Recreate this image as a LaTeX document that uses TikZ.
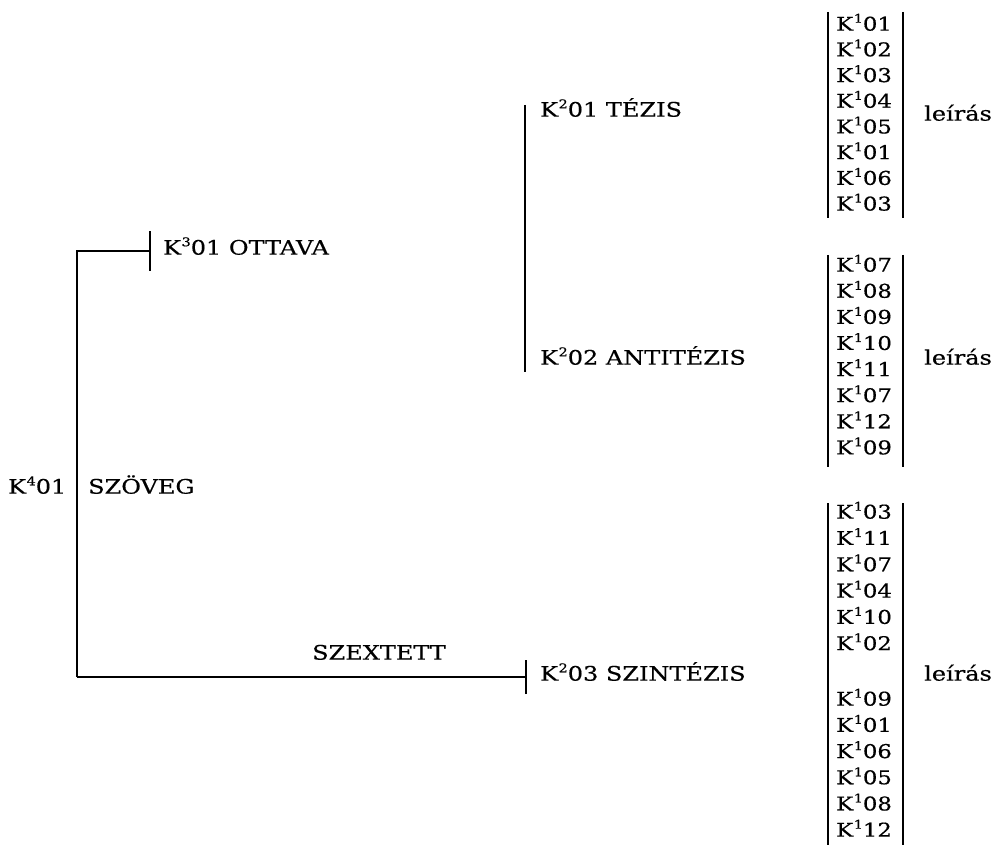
\documentclass[tikz,border=0pt]{standalone}
\usepackage{fontspec}
\setmainfont{DejaVu Serif}[FakeStretch=1.2,FakeBold=0.5]
\newcommand{\Ks}[2]{K\kern0.5pt\raisebox{0.42em}{\fontsize{12}{12}\selectfont #1}#2}
\begin{document}
\begin{tikzpicture}[x=1pt,y=-1pt,
  lbl/.style={inner sep=0pt,anchor=west,text height=0.73em,text depth=0pt,font=\fontsize{20}{24}\selectfont},
  row/.style={inner sep=0pt,anchor=west,text height=0.73em,text depth=0pt,font=\fontsize{19}{24}\selectfont},
  ln/.style={line width=1.6pt},
  bar/.style={line width=2.2pt}]
\useasboundingbox (0,0) rectangle (994,845);
% main labels
\node[lbl] (k4) at (8,490) {\Ks{4}{01}};
\node[lbl] (szoveg) at (88,490) {SZÖVEG};
\node[lbl] (ottava) at (163,251) {\Ks{3}{01} OTTAVA};
\node[lbl] (szextett) at (312,656) {SZEXTETT};
\node[lbl] (tezis) at (540,113) {\Ks{2}{01} TÉZIS};
\node[lbl] (antitezis) at (540,361) {\Ks{2}{02} ANTITÉZIS};
\node[lbl] (szintezis) at (540,677) {\Ks{2}{03} SZINTÉZIS};
% coordinates
\coordinate (topL) at (77,251);
\coordinate (botL) at (77,677);
\coordinate (tickA) at (150,251);
\coordinate (tickB) at (526,677);
\coordinate (midT) at (525,105);
\coordinate (midB) at (525,372);
% connectors
\draw[ln] (botL) -- (topL) -- (tickA);
\draw[ln] ([yshift=-20pt]tickA) -- ([yshift=20pt]tickA);
\draw[ln] (botL) -- (tickB);
\draw[ln] ([yshift=-17pt]tickB) -- ([yshift=17pt]tickB);
\draw[ln] (midT) -- (midB);
% group 1
\foreach \t [count=\i] in {01,02,03,04,05,01,06,03}
  \node[row] (ga\i) at (836,{27+25.7*(\i-1)}) {\Ks{1}{\t}};
\draw[bar] (828,12) -- (828,218);
\draw[bar] (903,12) -- (903,218);
\node[lbl] (leiras1) at (924,117) {leírás};
% group 2
\foreach \t [count=\i] in {07,08,09,10,11,07,12,09}
  \node[row] (gb\i) at (836,{268+26.1*(\i-1)}) {\Ks{1}{\t}};
\draw[bar] (828,255) -- (828,467);
\draw[bar] (903,255) -- (903,467);
\node[lbl] (leiras2) at (924,361) {leírás};
% group 3
\foreach \t [count=\i] in {03,11,07,04,10,02}
  \node[row] (gc\i) at (836,{515+26.3*(\i-1)}) {\Ks{1}{\t}};
\foreach \t [count=\i] in {09,01,06,05,08,12}
  \node[row] (gd\i) at (836,{702+26.2*(\i-1)}) {\Ks{1}{\t}};
\draw[bar] (828,503) -- (828,845);
\draw[bar] (903,503) -- (903,845);
\node[lbl] (leiras3) at (924,677) {leírás};
\end{tikzpicture}
\end{document}
